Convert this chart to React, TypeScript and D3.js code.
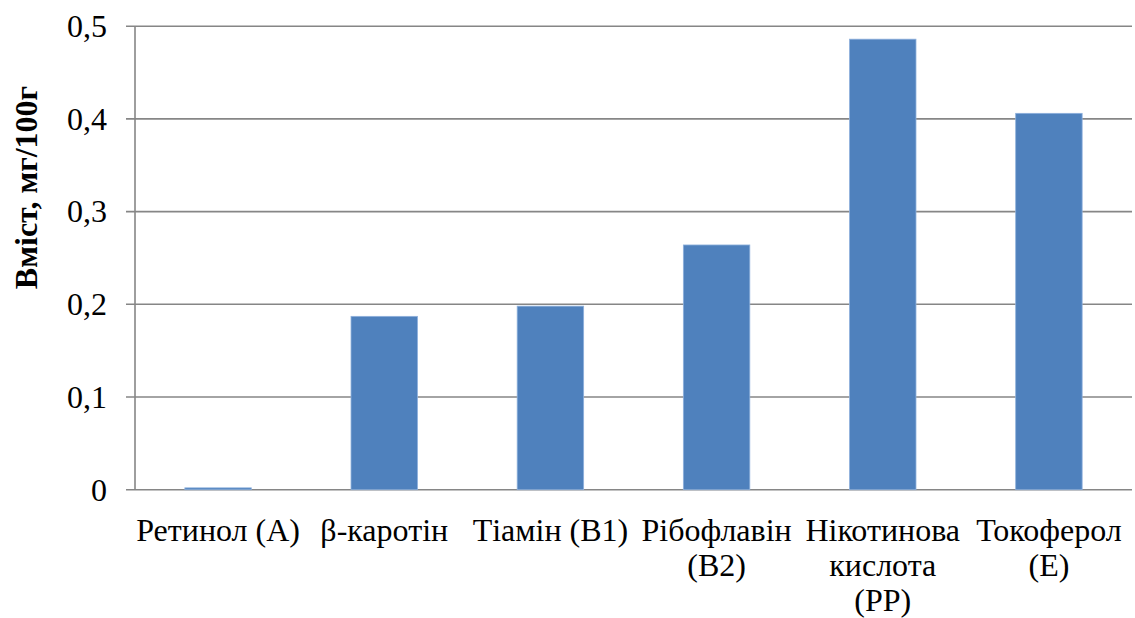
import React from "react";
import * as d3 from "d3";

// Vitamin content, mg per 100 g
const categories: string[][] = [
  ["Ретинол (А)"],
  ["β-каротін"],
  ["Тіамін (В1)"],
  ["Рібофлавін", "(В2)"],
  ["Нікотинова", "кислота", "(РР)"],
  ["Токоферол", "(Е)"],
];
const values: number[] = [0.002, 0.187, 0.198, 0.264, 0.486, 0.406];
const yTicks: number[] = [0, 0.1, 0.2, 0.3, 0.4, 0.5];
const yTitle = "Вміст, мг/100г";

const W = 1135;
const H = 618;
const left = 135;
const right = 1132;
const top = 26.2;
const bottom = 489.7;

const font = "Liberation Serif, DejaVu Serif, serif";

export default function App() {
  const keys = categories.map((c) => c.join(" "));
  const x = d3.scaleBand<string>().domain(keys).range([left, right]).paddingInner(0.6).paddingOuter(0.3);
  const y = d3.scaleLinear().domain([0, 0.5]).range([bottom, top]);
  const fmt = (v: number) => (v === 0 ? "0" : d3.format(".1f")(v).replace(".", ","));

  return (
    <svg
      width={W}
      height={H}
      style={{ position: "absolute", left: 0, top: 0, background: "#fff", fontFamily: font }}
    >
      {/* horizontal gridlines and tick marks */}
      {yTicks.map((t) => (
        <g key={t}>
          <line x1={126} x2={right} y1={y(t)} y2={y(t)} stroke="#868686" strokeWidth={1.6} />
          <text
            x={107}
            y={y(t)}
            dy="0.34em"
            textAnchor="end"
            style={{ fontFamily: font, fontSize: 32 }}
            fill="#000"
          >
            {fmt(t)}
          </text>
        </g>
      ))}
      {/* vertical axis line */}
      <line x1={left} x2={left} y1={top} y2={bottom} stroke="#868686" strokeWidth={1.6} />

      {/* bars */}
      {values.map((v, i) => (
        <rect
          key={keys[i]}
          x={x(keys[i])!}
          y={y(v)}
          width={x.bandwidth()}
          height={bottom - y(v)}
          fill="#4F81BD"
          stroke="#8EB0DC"
          strokeWidth={0.8}
        />
      ))}

      {/* category labels */}
      {categories.map((lines, i) => {
        const cx = x(keys[i])! + x.bandwidth() / 2;
        return (
          <text key={keys[i]} textAnchor="middle" style={{ fontFamily: font, fontSize: 32 }} fill="#000">
            {lines.map((ln, j) => (
              <tspan key={j} x={cx} y={541 + j * 35}>
                {ln}
              </tspan>
            ))}
          </text>
        );
      })}

      {/* y-axis title */}
      <text
        transform={`translate(37, 187.5) rotate(-90)`}
        textAnchor="middle"
        style={{ fontFamily: font, fontSize: 32, fontWeight: "bold" }}
        fill="#000"
      >
        {yTitle}
      </text>
    </svg>
  );
}
